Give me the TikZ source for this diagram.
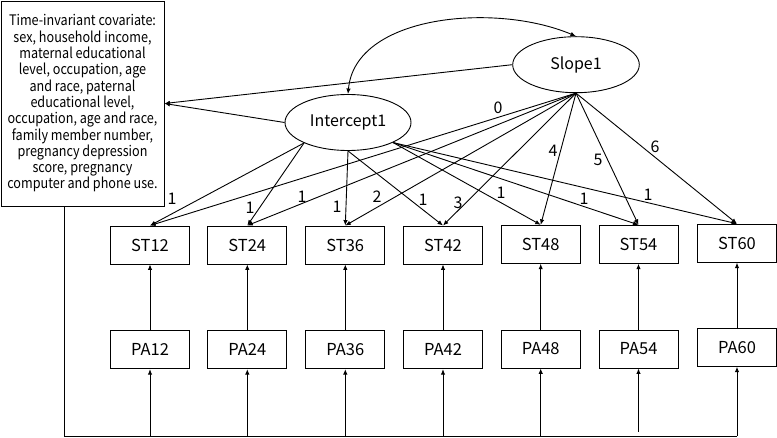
\documentclass[tikz,border=0pt]{standalone}
\usepackage{fontspec}
\setmainfont{Noto Sans CJK SC}
\newfontfamily\covfont{Noto Sans CJK SC}[FakeStretch=0.87]
\usetikzlibrary{arrows.meta,shapes.geometric,calc}
\begin{document}
\begin{tikzpicture}[x=1pt,y=-1pt, line width=0.9pt,
  >={Latex[length=5.5pt,width=4.5pt]},
  obs/.style={draw, rectangle, minimum width=79pt, minimum height=38pt, inner sep=0pt, font=\fontsize{16.5}{18}\selectfont},
  lat/.style={draw, ellipse, minimum width=126pt, minimum height=56pt, inner sep=0pt, font=\fontsize{16}{18}\selectfont},
  lab/.style={inner sep=0pt, font=\fontsize{16}{18}\selectfont},
  arr/.style={->}]
\useasboundingbox (0,0) rectangle (777,438);

% covariate box
\node[draw, rectangle, minimum width=163pt, minimum height=205pt, inner sep=0pt, align=center,
      font=\covfont\fontsize{14.5}{16.3}\selectfont] (cov) at (82.5,103.5)
  {Time-invariant covariate:\\ sex, household income,\\ maternal educational\\ level, occupation, age\\ and race, paternal\\ educational level,\\ occupation, age and race,\\ family member number,\\ pregnancy depression\\ score, pregnancy\\ computer and phone use.};

% latent variables
\node[lat] (I) at (348,122.5) {Intercept1};
\node[lat, minimum width=126.6pt] (S) at (576,64.7) {Slope1};

% observed ST
\node[obs] (ST12) at (150,245) {ST12};
\node[obs] (ST24) at (247.3,245) {ST24};
\node[obs] (ST36) at (345.3,245) {ST36};
\node[obs] (ST42) at (443,245) {ST42};
\node[obs] (ST48) at (540.7,244.3) {ST48};
\node[obs] (ST54) at (638.5,244.3) {ST54};
\node[obs] (ST60) at (737,243.2) {ST60};

% observed PA
\node[obs] (PA12) at (150,349.7) {PA12};
\node[obs] (PA24) at (247.3,349.7) {PA24};
\node[obs] (PA36) at (345.3,349.7) {PA36};
\node[obs] (PA42) at (443,349.7) {PA42};
\node[obs] (PA48) at (540.7,349) {PA48};
\node[obs] (PA54) at (638.5,349) {PA54};
\node[obs] (PA60) at (737,347.3) {PA60};

% covariance curve
\draw[<->] (I.north) .. controls (355,15) and (495,2) .. (S.north);

% paths to covariate box
\draw[arr] (S.west) -- (cov.east);
\draw[arr] (I.west) -- (cov.east);

% intercept loadings
\draw[arr] (I.205) -- (ST12.north);
\draw[arr] (I.205) -- (ST24.north);
\draw[arr] (I.270) -- (ST36.north);
\draw[arr] (I.270) -- (ST42.north);
\draw[arr] (I.336) -- (ST48.north);
\draw[arr] (I.336) -- (ST54.north);
\draw[arr] (I.336) -- (ST60.north);

% slope loadings
\draw[arr] (S.south) -- (ST12.north);
\draw[arr] (S.south) -- (ST24.north);
\draw[arr] (S.south) -- (ST36.north);
\draw[arr] (S.south) -- (ST42.north);
\draw[arr] (S.south) -- (ST48.north);
\draw[arr] (S.south) -- (ST54.north);
\draw[arr] (S.south) -- (ST60.north);

% PA -> ST
\foreach \t in {12,24,36,42,48,54,60}{
  \draw[arr] (PA\t) -- (ST\t);
}

% bottom line from covariate box
\coordinate (bl) at (64,436);
\draw ([xshift=-18.5pt]cov.south) |- (PA60.south |- bl);
\foreach \t in {12,24,36,42,48,60}{
  \draw[arr] (PA\t.south |- bl) -- (PA\t.south);
}
\draw[arr] ($(PA54.south |- bl)+(0,-4)$) -- (PA54.south);

% labels
\node[lab] (a1) at (172,199) {1};
\node[lab] (a2) at (250,208) {1};
\node[lab] (b2) at (302,197) {1};
\node[lab] (a3) at (337,207) {1};
\node[lab] (b3) at (377,197) {2};
\node[lab] (a4) at (423,200) {1};
\node[lab] (b4) at (458,203) {3};
\node[lab] (a5) at (501,193) {1};
\node[lab] (b5) at (553,151) {4};
\node[lab] (a6) at (584,199) {1};
\node[lab] (b6) at (598,160) {5};
\node[lab] (a7) at (648,195) {1};
\node[lab] (b7) at (655,147) {6};
\node[lab] (b1) at (498,108) {0};
\end{tikzpicture}
\end{document}
